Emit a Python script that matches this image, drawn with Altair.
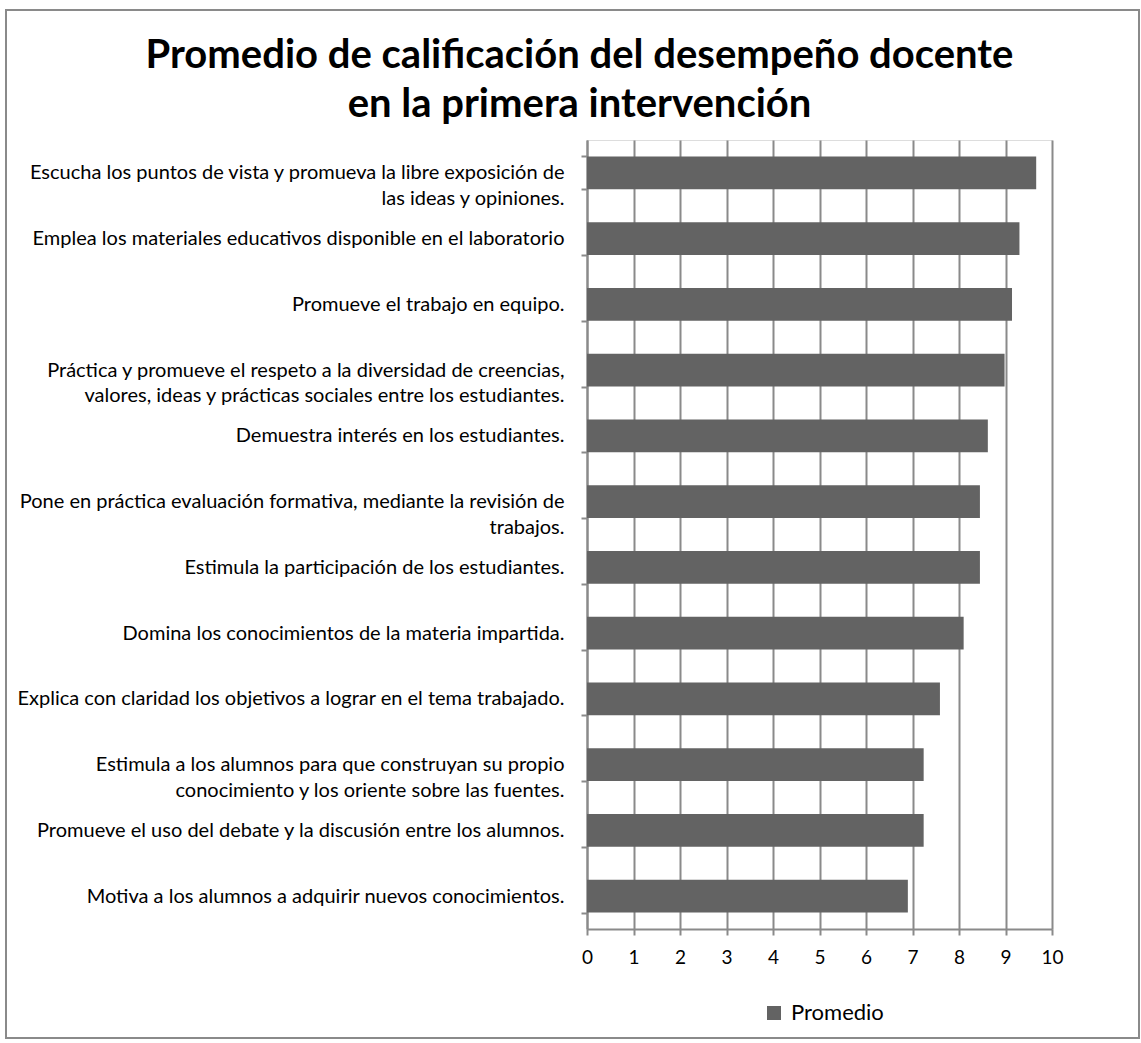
import altair as alt
import pandas as pd

categorias = [
    "Escucha los puntos de vista y promueva la libre exposición de|las ideas y opiniones.",
    "Emplea los materiales educativos disponible en el laboratorio",
    "Promueve el trabajo en equipo.",
    "Práctica y promueve el respeto a la diversidad de creencias,|valores, ideas y prácticas sociales entre los estudiantes.",
    "Demuestra interés en los estudiantes.",
    "Pone en práctica evaluación formativa, mediante la revisión de|trabajos.",
    "Estimula la participación de los estudiantes.",
    "Domina los conocimientos de la materia impartida.",
    "Explica con claridad los objetivos a lograr en el tema trabajado.",
    "Estimula  a los alumnos para que construyan su propio|conocimiento y los oriente sobre las fuentes.",
    "Promueve el uso del debate y la discusión entre los alumnos.",
    "Motiva a los alumnos a adquirir nuevos conocimientos.",
]
promedio = [9.66, 9.30, 9.14, 8.98, 8.62, 8.45, 8.45, 8.10, 7.59, 7.24, 7.24, 6.90]
serie = "Promedio"
titulo = ["Promedio de calificación del desempeño docente", "en la primera intervención"]
ticks_x = list(range(0, 11))

df = pd.DataFrame({"categoria": categorias, "valor": promedio, "serie": [serie] * len(categorias)})

FONT = "Lato"
GRID = "#8a8a8a"

bars = alt.Chart(df).mark_bar(color="#636363").encode(
    y=alt.Y(
        "categoria:N",
        sort=None,
        title=None,
        scale=alt.Scale(paddingInner=0.5, paddingOuter=0.25),
        axis=alt.Axis(
            labelExpr="isValid(datum.value) ? split(datum.value, '|') : ''",
            labelFont=FONT,
            labelFontSize=20,
            labelLineHeight=25.7,
            labelColor="#000000",
            labelPadding=17,
            labelLimit=0,
            tickBand="extent",
            tickSize=6,
            tickColor=GRID,
            tickWidth=2,
            domainColor=GRID,
            domainWidth=2,
            grid=False,
        ),
    ),
    x=alt.X(
        "valor:Q",
        title=None,
        scale=alt.Scale(domain=[0, 10], nice=False),
        axis=alt.Axis(
            values=ticks_x,
            labelFont=FONT,
            labelFontSize=19,
            labelColor="#000000",
            labelPadding=13,
            labelFlush=False,
            tickSize=6,
            tickColor=GRID,
            tickWidth=2,
            domainColor=GRID,
            domainWidth=2,
            grid=True,
            gridColor=GRID,
            gridWidth=2,
        ),
    ),
    color=alt.Color(
        "serie:N",
        scale=alt.Scale(domain=[serie], range=["#636363"]),
        legend=alt.Legend(
            title=None,
            orient="none",
            legendX=176,
            legendY=862,
            symbolType="square",
            symbolSize=196,
            symbolStrokeWidth=0,
            labelFont=FONT,
            labelFontSize=22,
            labelColor="#000000",
            labelOffset=6,
            padding=0,
        ),
    ),
)

frame = alt.Chart(alt.Data(values=[{"f": 1}])).mark_rect(
    filled=False, stroke=GRID, strokeWidth=2
).encode(
    x=alt.value(-581), x2=alt.value(552), y=alt.value(-130), y2=alt.value(898)
)

chart = alt.layer(frame, bars).properties(
    width=465,
    height=789,
    title=alt.TitleParams(
        text=titulo,
        font=FONT,
        fontSize=40,
        fontWeight="bold",
        lineHeight=49,
        color="#000000",
        anchor="middle",
        dx=-240,
        offset=0,
        dy=116,
    ),
    autosize=alt.AutoSizeParams(type="none"),
    padding={"left": 587, "top": 140, "right": 89, "bottom": 114},
).configure_view(stroke=None).configure(background="#ffffff")

chart.save("out.html", embed_options={"renderer": "svg", "actions": False})
